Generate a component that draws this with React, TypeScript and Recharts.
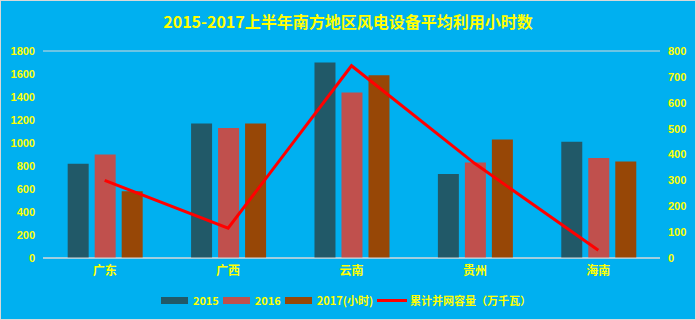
import { ComposedChart, Bar, Line, XAxis, YAxis, CartesianGrid } from 'recharts';

const regions = ['广东', '广西', '云南', '贵州', '海南'];
const hours2015 = [820, 1170, 1700, 730, 1010];
const hours2016 = [900, 1130, 1440, 830, 870];
const hours2017 = [580, 1170, 1590, 1030, 840];
const capacity = [300, 115, 743, 365, 30];

const leftTicks = [0, 200, 400, 600, 800, 1000, 1200, 1400, 1600, 1800];
const rightTicks = [0, 100, 200, 300, 400, 500, 600, 700, 800];

const data = regions.map((name, i) => ({
  name,
  y2015: hours2015[i],
  y2016: hours2016[i],
  y2017: hours2017[i],
  cap: capacity[i],
}));

const YELLOW = '#FFFF00';
const FONT = '"Noto Sans CJK SC", "Liberation Sans", sans-serif';

const legendItems = [
  { label: '2015', color: '#215968', type: 'rect' },
  { label: '2016', color: '#C0504D', type: 'rect' },
  { label: '2017(小时)', color: '#974706', type: 'rect' },
  { label: '累计并网容量（万千瓦）', color: '#FF0000', type: 'line' },
];

const LegendBox = () => (
  <div style={{ position: 'absolute', top: 290, left: 0, width: '100%', display: 'flex', justifyContent: 'center', alignItems: 'center', fontFamily: FONT, fontSize: 11, fontWeight: 'bold', color: YELLOW, lineHeight: '18px' }}>
    {legendItems.map((it) => (
      <div key={it.label} style={{ display: 'flex', alignItems: 'center', marginRight: 4 }}>
        {it.type === 'rect' ? (
          <span style={{ display: 'inline-block', width: 27, height: 7, background: it.color, marginRight: 5 }} />
        ) : (
          <span style={{ display: 'inline-block', width: 30, height: 3, background: it.color, marginRight: 3 }} />
        )}
        <span>{it.label}</span>
      </div>
    ))}
  </div>
);

const App = () => {
  return (
    <div style={{ position: 'absolute', left: 0, top: 0, width: 694, height: 318, background: '#00B0F0', border: '1px solid #D9D9D9' }}>
      <div style={{ position: 'absolute', top: 8, width: '100%', textAlign: 'center', color: YELLOW, fontFamily: FONT, fontWeight: 'bold', fontSize: 16 }}>
        2015-2017上半年南方地区风电设备平均利用小时数
      </div>
      <ComposedChart
        width={694}
        height={318}
        data={data}
        margin={{ top: 50, right: 0, bottom: 41, left: 0 }}
        barGap={6}
        barCategoryGap="20%"
      >
        <CartesianGrid vertical={false} stroke="#D9D9D9" strokeWidth={1} />
        <XAxis
          dataKey="name"
          height={20}
          axisLine={{ stroke: '#D9D9D9' }}
          tickLine={false}
          tick={{ fill: YELLOW, fontSize: 12, fontWeight: 'bold', fontFamily: FONT }}
        />
        <YAxis
          yAxisId="left"
          width={42}
          domain={[0, 1800]}
          ticks={leftTicks}
          axisLine={false}
          tickLine={false}
          tick={{ fill: YELLOW, fontSize: 11, fontWeight: 'bold', fontFamily: '"Liberation Sans", sans-serif' }}
          interval={0}
        />
        <YAxis
          yAxisId="right"
          orientation="right"
          width={35}
          domain={[0, 800]}
          ticks={rightTicks}
          axisLine={false}
          tickLine={false}
          tick={{ fill: YELLOW, fontSize: 11, fontWeight: 'bold', fontFamily: '"Liberation Sans", sans-serif', textAnchor: 'start' }}
          interval={0}
        />
        <Bar yAxisId="left" dataKey="y2015" fill="#215968" isAnimationActive={false} />
        <Bar yAxisId="left" dataKey="y2016" fill="#C0504D" isAnimationActive={false} />
        <Bar yAxisId="left" dataKey="y2017" fill="#974706" isAnimationActive={false} />
        <Line
          yAxisId="right"
          dataKey="cap"
          type="linear"
          stroke="#FF0000"
          strokeWidth={3}
          dot={false}
          isAnimationActive={false}
        />
      </ComposedChart>
      <LegendBox />
    </div>
  );
};

export default App;
